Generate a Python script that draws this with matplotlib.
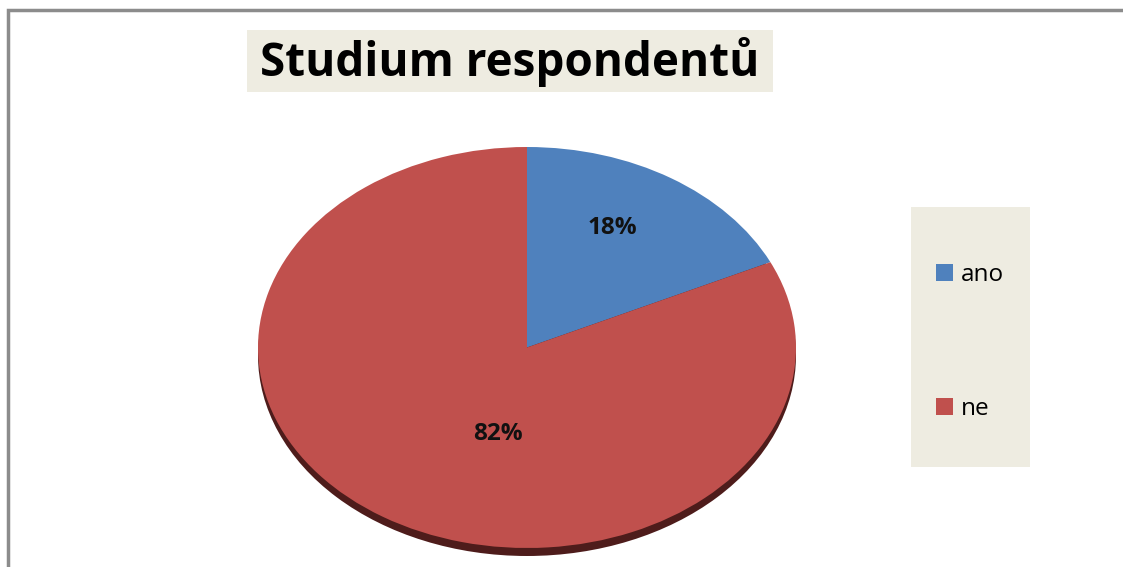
import matplotlib
matplotlib.use("Agg")
import matplotlib.pyplot as plt
from matplotlib.patches import Rectangle, Ellipse

plt.rcParams['font.family'] = ['Open Sans', 'DejaVu Sans']

title = "Studium respondentů"
labels = ["ano", "ne"]
values = [18, 82]
colors = ["#4F81BD", "#C0504D"]
pct_pos = [(0.316, 0.596), (-0.108, -0.431)]

W, H = 1123, 567
fig = plt.figure(figsize=(W / 100, H / 100), dpi=100)


def fx(px):
    return px / W


def fy(py):
    return 1 - py / H


# outer frame (only top and left visible)
fig.patches.append(Rectangle((fx(8), fy(600)), fx(1200), fy(10) - fy(600),
                             transform=fig.transFigure, fill=False,
                             edgecolor="#8c8c8c", linewidth=2.5))

# pie area
left, right, top, bottom = 258, 796, 147, 548
depth = 8
ext = depth / ((bottom - top) / 2)
ax = fig.add_axes([fx(left), fy(bottom + depth), fx(right - left), fy(top) - fy(bottom + depth)])
ax.axis('off')

# dark edge underneath (3D look)
ax.add_patch(Ellipse((0, -ext), 2.0, 2.0, facecolor="#4e1c1b", edgecolor="none", zorder=0))

wedges, texts, autotexts = ax.pie(values, colors=colors, startangle=90, counterclock=False,
                                  autopct='%1.0f%%', radius=1,
                                  wedgeprops=dict(edgecolor="none"),
                                  textprops=dict(fontsize=17.5, fontweight='bold', color='#111111'))
for t, p in zip(autotexts, pct_pos):
    t.set_position(p)
ax.set_xlim(-1, 1)
ax.set_ylim(-1 - ext, 1)
ax.set_aspect('auto')

# title with box
fig.patches.append(Rectangle((fx(247), fy(92)), fx(773 - 247), fy(30) - fy(92),
                             transform=fig.transFigure, facecolor="#EEECE1", edgecolor="none"))
fig.text(fx(510), fy(62), title, ha='center', va='center', fontsize=33,
         fontweight='bold', color='#000000')

# legend box
fig.patches.append(Rectangle((fx(911), fy(467)), fx(1030 - 911), fy(207) - fy(467),
                             transform=fig.transFigure, facecolor="#EEECE1", edgecolor="none"))
handles = [Rectangle((0, 0), 1, 1, facecolor=c, edgecolor="none") for c in colors]
fig.legend(handles, labels, loc='center left', bbox_to_anchor=(fx(936), fy(342)),
           frameon=False, fontsize=17.5, handlelength=0.68, handleheight=0.68,
           handletextpad=0.35, labelspacing=4.55, borderpad=0, borderaxespad=0)

fig.savefig("out.png", dpi=100)
